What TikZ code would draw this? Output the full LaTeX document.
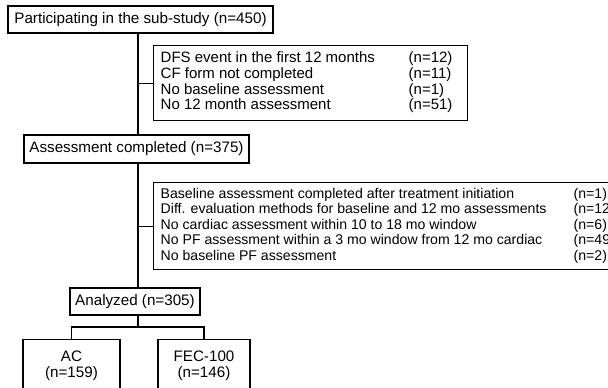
\documentclass[tikz,border=0pt]{standalone}
\usepackage{fontspec}
\setmainfont{Liberation Sans}
\usepackage{array}
\tikzset{
  box/.style={draw, line width=1.4pt, inner sep=0pt, font=\fontsize{15.2}{15.5}\selectfont},
  link/.style={line width=1.4pt}
}
\begin{document}
\begin{tikzpicture}[x=1pt,y=-1pt]
    \clip (0,0) rectangle (608,388);
    \coordinate (spine) at (138,0);
    \node[box, minimum width=265pt, minimum height=27pt](p1) at (140.5,19.5) {Participating in the sub-study (n=450)};
    \node[box, anchor=north west, minimum height=75pt, inner xsep=7pt, font=\fontsize{15}{15.6}\selectfont](ex1) at (153,45)
        {\begin{tabular}{@{}p{248pt}@{}p{52pt}@{}}
        DFS event in the first 12 months & (n=12)\\
        CF form not completed & (n=11)\\
        No baseline assessment & (n=1)\\
        No 12 month assessment & (n=51)
        \end{tabular}};
    \node[box, minimum width=225pt, minimum height=28pt](p2) at (136.5,149) {Assessment completed (n=375)};
    \node[box, anchor=north west, minimum height=87pt, inner xsep=7pt, font=\fontsize{14.1}{15.5}\selectfont](ex2) at (153,182)
        {\begin{tabular}{@{}p{413pt}@{}p{40pt}@{}}
        Baseline assessment completed after treatment initiation & (n=1)\\
        Diff. evaluation methods for baseline and 12 mo assessments & (n=12)\\
        No cardiac assessment within 10 to 18 mo window & (n=6)\\
        No PF assessment within a 3 mo window from 12 mo cardiac & (n=49)\\
        No baseline PF assessment & (n=2)
        \end{tabular}};
    \node[box, minimum width=130pt, minimum height=27pt](p3) at (135,301.5) {Analyzed (n=305)};
    \node[box, anchor=north, minimum width=97pt, minimum height=52pt, align=center](ac) at (71.5,339) {AC\\(n=159)};
    \node[box, anchor=north, minimum width=92pt, minimum height=52pt, align=center](fec) at (204,339) {FEC-100\\(n=146)};
    \coordinate (split) at (138,327);
    \draw[link] (p1.south -| spine) -- (p2.north -| spine);
    \draw[link] (ex1.west) -- (ex1.west -| spine);
    \draw[link] (p2.south -| spine) -- (p3.north -| spine);
    \draw[link] (ex2.west) -- (ex2.west -| spine);
    \draw[link] (p3.south -| spine) -- (split);
    \draw[link] (ac.north) |- (split) -| (fec.north);
\end{tikzpicture}
\end{document}
